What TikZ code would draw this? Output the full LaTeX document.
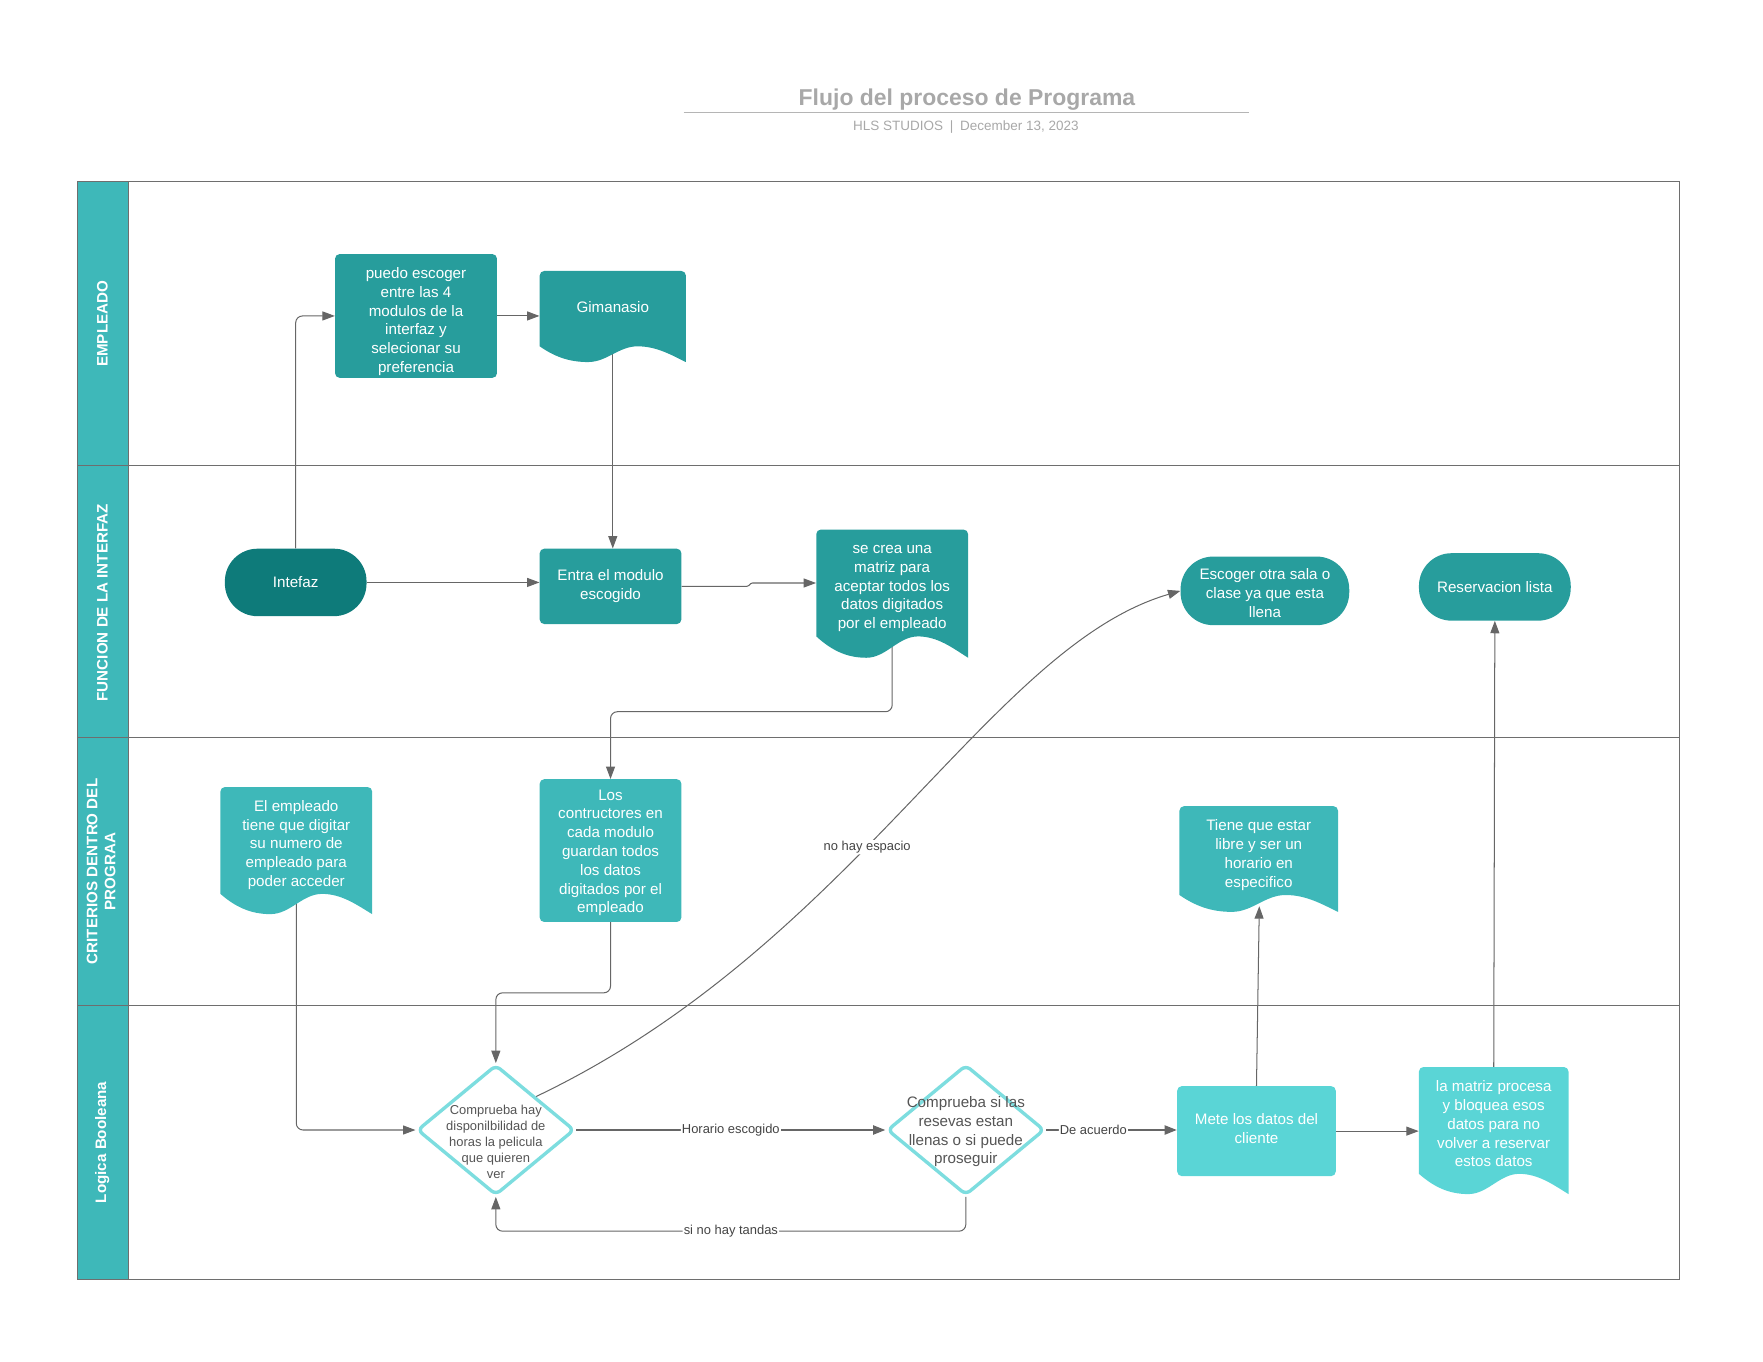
\documentclass[tikz,border=0pt]{standalone}
\usepackage{fontspec}
\setmainfont{Liberation Sans}
\usetikzlibrary{arrows.meta,shapes.geometric}
\pgfdeclarelayer{bg}
\pgfsetlayers{bg,main}
\definecolor{tealdeep}{HTML}{0E7B7A}
\definecolor{tealdark}{HTML}{279D9C}
\definecolor{tealmid}{HTML}{3EB8B9}
\definecolor{teallight}{HTML}{5AD5D6}
\definecolor{diaedge}{HTML}{7DDDDF}
\definecolor{wire}{HTML}{666666}
\definecolor{frame}{HTML}{6E6E6E}
\definecolor{titlegray}{HTML}{A8A8A8}
\definecolor{labelgray}{HTML}{444444}
\definecolor{diatext}{HTML}{555555}

% document shape: fill colour, left, top, right, bottom, wave height
\newcommand\docshape[6]{%
  \pgfmathsetmacro\dW{#4-#2}%
  \fill[#1] (#2,{#5-#6}) [rounded corners=4pt] -- (#2,#3) -- (#4,#3) [sharp corners] -- (#4,#5)
    .. controls ({#2+0.9*\dW},{#5-0.45*#6}) and ({#2+0.8*\dW},{#5-#6}) .. ({#2+0.67*\dW},{#5-#6})
    .. controls ({#2+0.54*\dW},{#5-#6}) and ({#2+0.46*\dW},#5) .. ({#2+0.33*\dW},#5)
    .. controls ({#2+0.2*\dW},#5) and ({#2+0.1*\dW},{#5-0.35*#6}) .. (#2,{#5-#6}) -- cycle;
}

\begin{document}
\begin{tikzpicture}[x=1pt,y=-1pt,
  boxfont/.style={font=\fontsize{13.5}{16.7}\selectfont},
  box/.style={rectangle, rounded corners=4pt, inner sep=0pt},
  term/.style={box, rounded corners=29pt},
  boxtext/.style={text=white, align=center, inner sep=0pt, boxfont},
  doctext/.style={rectangle, text=white, align=center, inner sep=0pt, boxfont},
  dia/.style={diamond, draw=diaedge, line width=3pt, fill=white, rounded corners=5pt,
    inner sep=0pt, minimum width=140pt, minimum height=116pt},
  lane/.style={rotate=90, text=white, align=center, font=\bfseries\fontsize{13.5}{16}\selectfont},
  conn/.style={draw=wire, line width=0.9pt, rounded corners=6pt,
    -{Triangle[length=11pt,width=8pt]}},
  heavy/.style={line width=2pt},
  lbl/.style={fill=white, text=labelgray, inner sep=1pt, font=\fontsize{11.5}{13}\selectfont}
]
\useasboundingbox (0,0) rectangle (1568,1211);

% heading
\node[text=titlegray, font=\bfseries\fontsize{20.4}{24}\selectfont] (title) at (860,88.5) {Flujo del proceso de Programa};
\draw[draw=titlegray!85, line width=1pt] (608,100) -- (1111,100);
\node[text=titlegray, font=\fontsize{12}{14}\selectfont] (subtitle) at (859,113) {HLS STUDIOS\enspace|\enspace December 13, 2023};

% pool and swimlanes
\fill[tealmid] (69,161) rectangle (114,1138);
\draw[frame, line width=0.9pt] (69,161) rectangle (1494,1138);
\draw[frame, line width=0.9pt] (114,161) -- (114,1138);
\foreach \yy in {414,656,894} \draw[frame, line width=0.9pt] (69,\yy) -- (1494,\yy);
\node[lane] (lane1) at (91,288) {EMPLEADO};
\node[lane] (lane2) at (91,536) {FUNCION DE LA INTERFAZ};
\node[lane] (lane3) at (90,775) {CRITERIOS DENTRO DEL\\PROGRAA};
\node[lane] (lane4) at (91,1016) {Logica Booleana};

% EMPLEADO
\node[box, fill=tealdark, minimum width=144pt, minimum height=110pt] (pued) at (370,281) {};
\node[boxtext] (pued-t) at (370,286)
  {puedo escoger\\entre las 4\\modulos de la\\interfaz y\\selecionar su\\preferencia};
\docshape{tealdark}{480}{241}{610}{322}{14}
\node[doctext, minimum width=130pt, minimum height=67pt] (gim) at (545,273.5) {Gimanasio};

% FUNCION DE LA INTERFAZ
\node[term, fill=tealdeep, minimum width=126pt, minimum height=60pt] (intf) at (263,518) {};
\node[boxtext] (intf-t) at (263,518) {Intefaz};
\node[box, fill=tealdark, minimum width=126pt, minimum height=67pt] (entra) at (543,521.5) {};
\node[boxtext] (entra-t) at (543,521.5) {Entra el modulo\\escogido};
\docshape{tealdark}{726}{471}{861}{585}{19}
\node[doctext, minimum width=135pt, minimum height=95pt] (mat) at (793.5,523.5)
  {se crea una\\matriz para\\aceptar todos los\\datos digitados\\por el empleado};
\node[term, fill=tealdark, minimum width=150pt, minimum height=61pt] (esc) at (1125,525.5) {};
\node[boxtext] (esc-t) at (1125,527.5) {Escoger otra sala o\\clase ya que esta\\llena};
\node[term, fill=tealdark, minimum width=135pt, minimum height=60pt] (res) at (1329.5,522) {};
\node[boxtext] (res-t) at (1329.5,522) {Reservacion lista};

% CRITERIOS DENTRO DEL PROGRAMA
\docshape{tealmid}{196}{700}{331}{813}{18}
\node[doctext, minimum width=135pt, minimum height=95pt] (emp) at (263.5,751.5)
  {El empleado\\tiene que digitar\\su numero de\\empleado para\\poder acceder};
\node[box, fill=tealmid, minimum width=126pt, minimum height=127pt] (los) at (543,756.5) {};
\node[boxtext] (los-t) at (543,758.5)
  {Los\\contructores en\\cada modulo\\guardan todos\\los datos\\digitados por el\\empleado};
\docshape{tealmid}{1049}{717}{1190}{811}{15}
\node[doctext, minimum width=141pt, minimum height=79pt] (tie) at (1119.5,760.5)
  {Tiene que estar\\libre y ser un\\horario en\\especifico};

% Logica Booleana
\node[dia] (d1) at (441,1005) {};
\node[text=diatext, align=center, font=\fontsize{11.5}{14.2}\selectfont] (d1t) at (441,1015.5)
  {Comprueba hay\\disponilbilidad de\\horas la pelicula\\que quieren\\ver};
\node[dia] (d2) at (859,1005) {};
\node[text=diatext, align=center, boxfont] (d2t) at (859,1006.5)
  {Comprueba si las\\resevas estan\\llenas o si puede\\proseguir};
\node[box, fill=teallight, minimum width=141pt, minimum height=80pt] (mete) at (1117.5,1006) {};
\node[boxtext] (mete-t) at (1117.5,1004) {Mete los datos del\\cliente};
\docshape{teallight}{1262}{949}{1395}{1062}{18}
\node[doctext, minimum width=133pt, minimum height=95pt] (mat2) at (1328.5,999.5)
  {la matriz procesa\\y bloquea esos\\datos para no\\volver a reservar\\estos datos};

% bend levels and wave points for the connectors
\coordinate (fb) at (0,633);
\coordinate (gb) at (0,883);
\coordinate (jb) at (0,1095);
\coordinate (tiew) at (1120,806);

\begin{pgfonlayer}{bg}
\draw[conn] (intf.north) |- (pued.west);
\draw[conn] (pued.east) -- (pued.east -| gim.west);
\draw[conn] (gim.center) -- (gim.center |- entra.north);
\draw[conn] (intf.east) -- (intf.east -| entra.west);
\draw[conn, rounded corners=1pt] (entra.east) -- ++(59,0) -- ++(3,-3) coordinate (ej) -- (ej -| mat.west);
\draw[conn] (mat.center) -- (mat.center |- fb) -| (los.north);
\draw[conn] (los.center) -- (los.center |- gb) -| (d1.north);
\draw[conn] (emp.center) |- (d1.west);
\draw[conn, heavy] (d1.east) -- node[lbl] {Horario escogido} (d2.west);
\draw[conn] (d2.south) -- (d2.south |- jb) -- node[lbl] {si no hay tandas} (d1.south |- jb) -- (d1.south);
\draw[conn] (d1.north east) .. controls (760,840) and (880,575) .. node[lbl, pos=0.435] {no hay espacio} (esc.west);
\draw[conn, heavy] (d2.east) -- node[lbl, pos=0.36] {De acuerdo} (d2.east -| mete.west);
\draw[conn] (mete.north) -- (tiew);
\draw[conn] (mete.east) -- (mete.east -| mat2.west);
\draw[conn] (mat2.north) -- (res.south);
\end{pgfonlayer}
\end{tikzpicture}
\end{document}
